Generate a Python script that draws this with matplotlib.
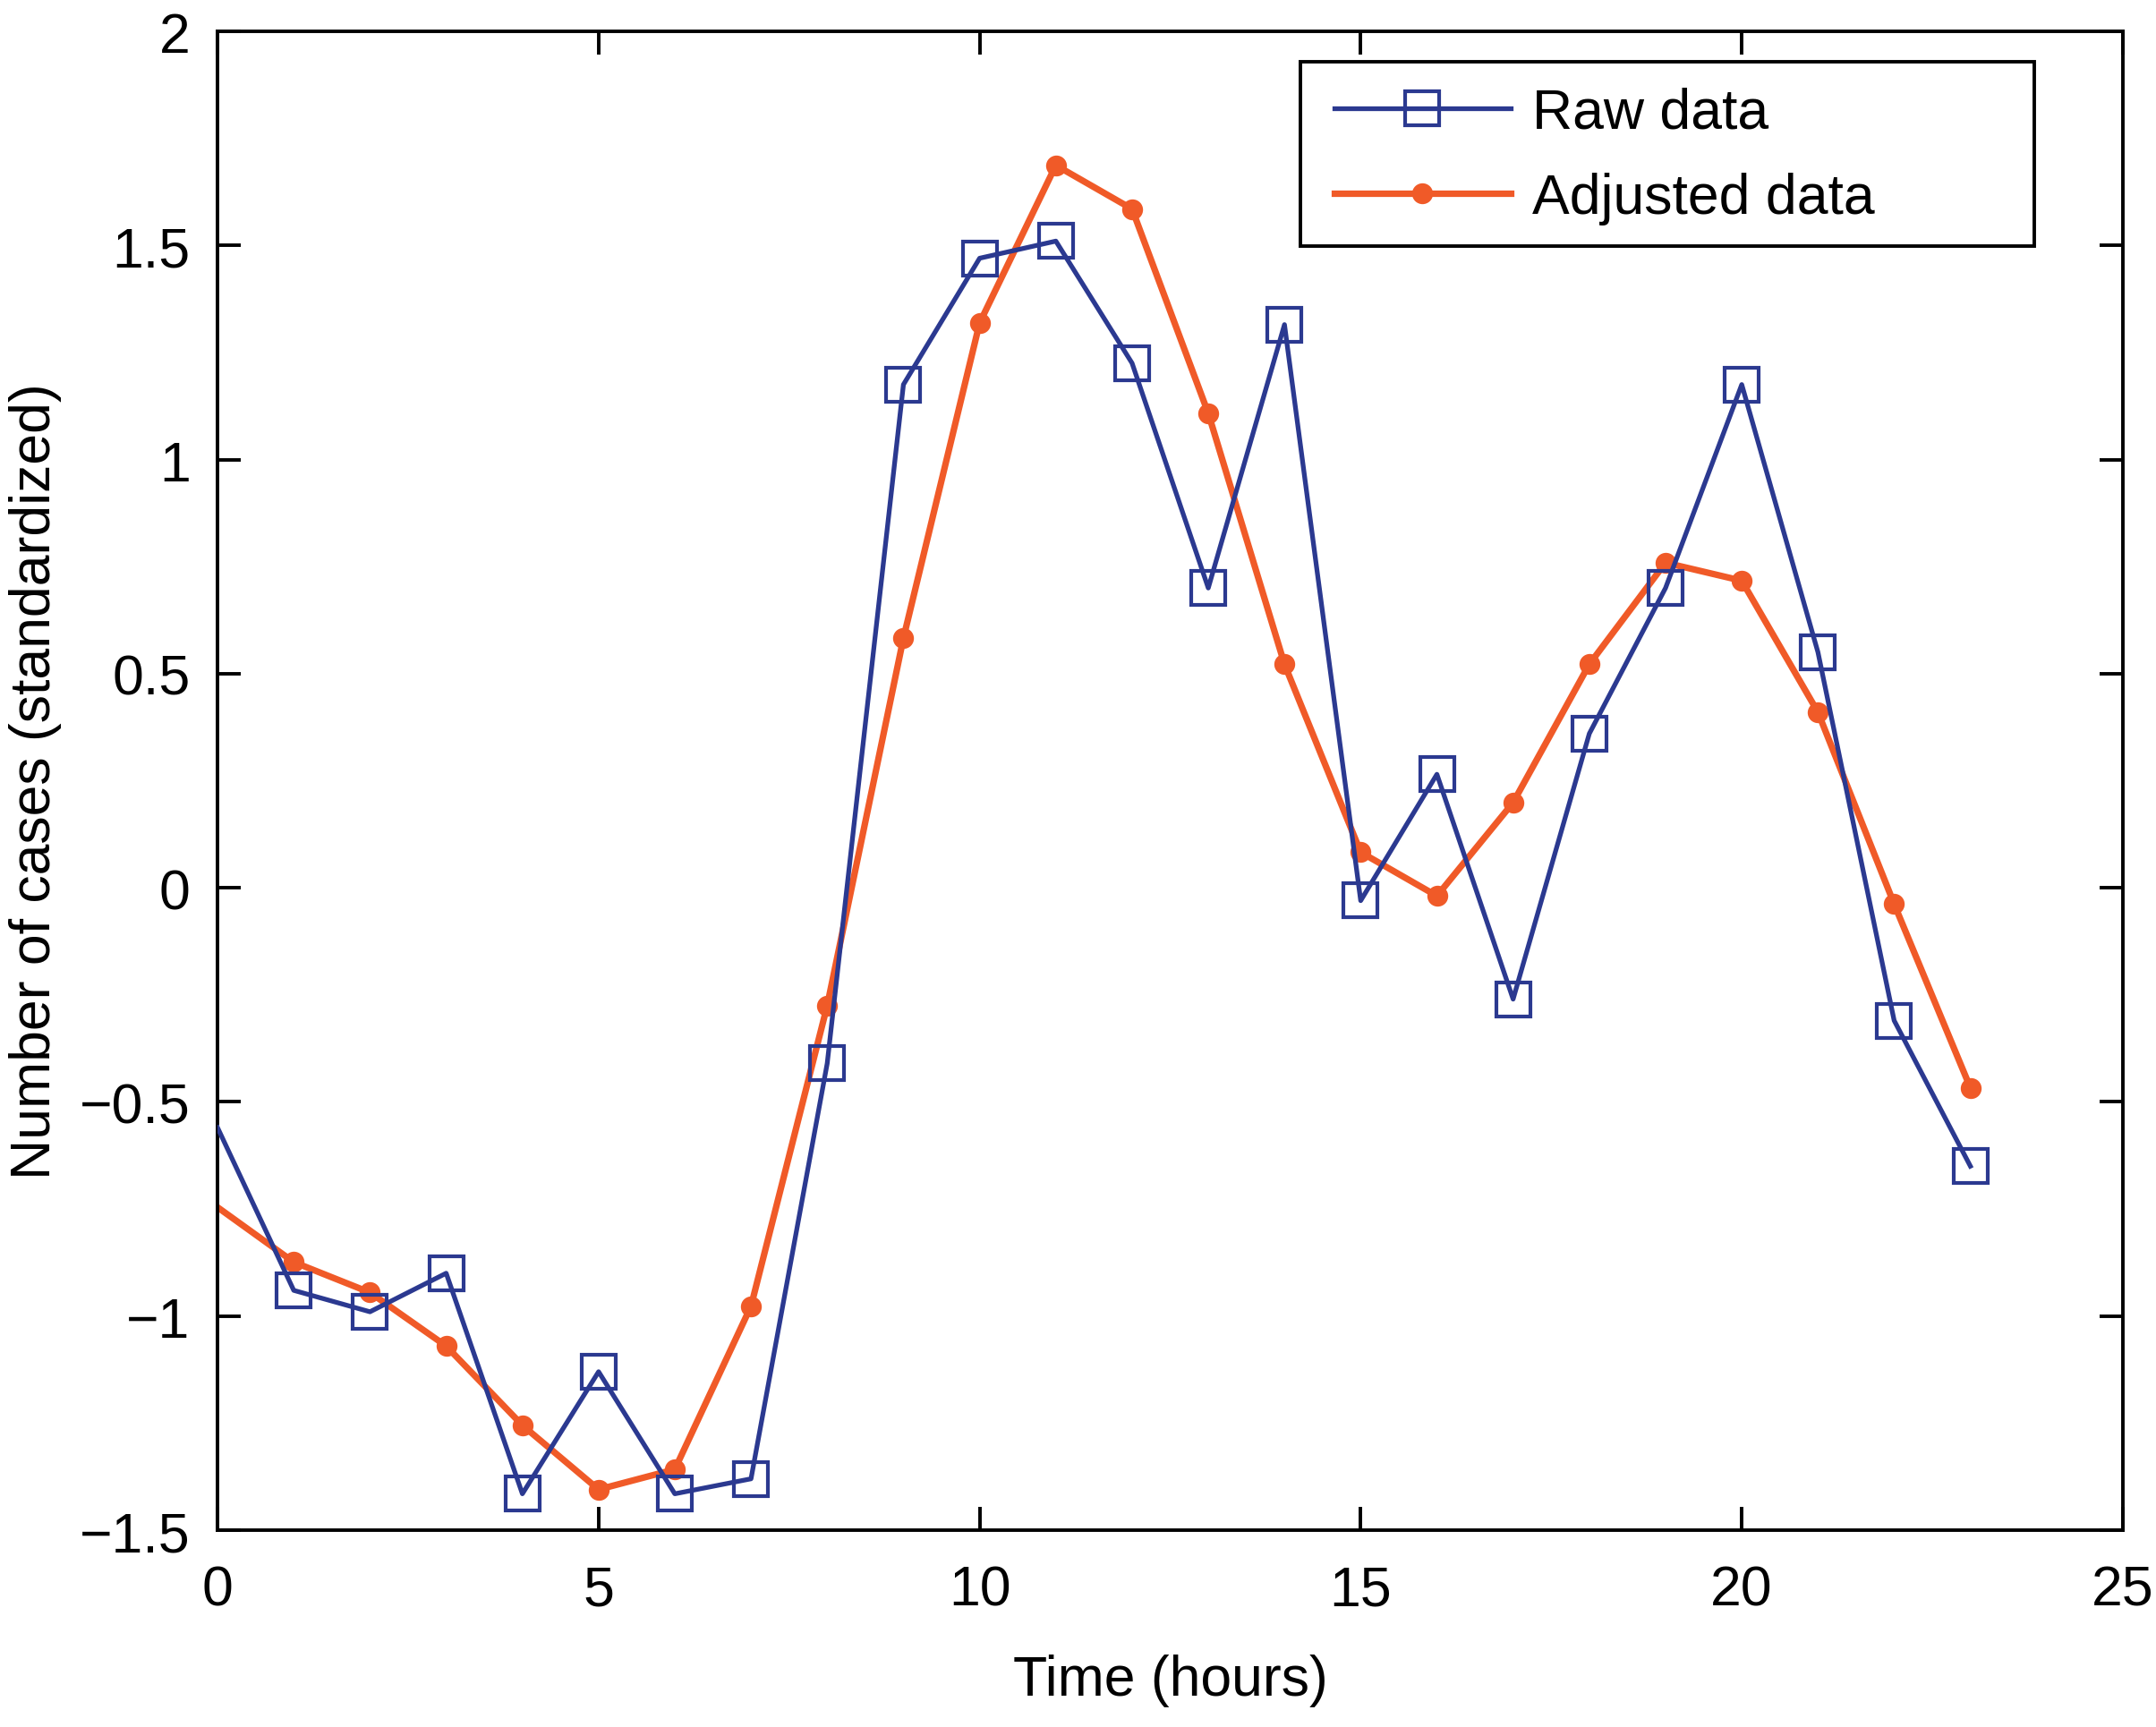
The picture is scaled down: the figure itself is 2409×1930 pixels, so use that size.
import matplotlib
matplotlib.use("Agg")
import matplotlib.pyplot as plt
from matplotlib.patches import Rectangle

hours = list(range(24))
raw_data = [-0.56, -0.94, -0.99, -0.90, -1.415, -1.13, -1.415, -1.38, -0.41, 1.175,
            1.47, 1.51, 1.225, 0.70, 1.315, -0.03, 0.265, -0.26, 0.36, 0.70,
            1.175, 0.55, -0.31, -0.65]
adjusted_data = [-0.746, -0.874, -0.945, -1.07, -1.255, -1.405, -1.358, -0.977, -0.275, 0.583,
                 1.319, 1.687, 1.585, 1.108, 0.522, 0.083, -0.019, 0.199, 0.522, 0.759,
                 0.717, 0.41, -0.038, -0.467]
xticks = [0, 5, 10, 15, 20, 25]
yticks = [-1.5, -1, -0.5, 0, 0.5, 1, 1.5, 2]
ytick_labels = ["\u22121.5", "\u22121", "\u22120.5", "0", "0.5", "1", "1.5", "2"]
series_labels = ["Raw data", "Adjusted data"]

plt.rcParams['font.family'] = ['Liberation Sans', 'DejaVu Sans']
FS = 22.5

W, H = 2409, 1931
fig = plt.figure(figsize=(W / 200, H / 200), dpi=200)
ax = fig.add_axes([0.1009, 0.1139, 0.8837, 0.8675])

blue = "#2B3990"
orange = "#F05A28"

ax.plot(hours, raw_data, color=blue, lw=1.9, marker='s', markersize=13.7,
        markerfacecolor='none', markeredgecolor=blue, markeredgewidth=1.5,
        markevery=list(range(1, 24)), label=series_labels[0], zorder=3)
ax.plot(hours, adjusted_data, color=orange, lw=2.6, marker='o', markersize=7.4,
        markerfacecolor=orange, markeredgecolor=orange,
        markevery=list(range(1, 24)), label=series_labels[1], zorder=2)

ax.set_xlim(0, 25)
ax.set_ylim(-1.5, 2)
ax.set_xticks(xticks)
ax.set_xticklabels([str(t) for t in xticks])
ax.set_yticks(yticks)
ax.set_yticklabels(ytick_labels)
ax.tick_params(direction='in', length=9.3, width=1.4, labelsize=FS, top=True, right=True)
ax.tick_params(axis='x', pad=13.5)
ax.tick_params(axis='y', pad=11)
for s in ax.spines.values():
    s.set_linewidth(1.4)

ax.set_xlabel("Time (hours)", fontsize=FS, labelpad=15)
ax.set_ylabel("Number of cases (standardized)", fontsize=FS, labelpad=7)

# legend frame (MATLAB style: extra room on the right)
x0, x1 = 1453 / W, 2273 / W
y_top, y_bot = 1 - 70 / H, 1 - 276 / H
frame = Rectangle((x0, y_bot), x1 - x0, y_top - y_bot, transform=fig.transFigure,
                  facecolor='white', edgecolor='black', lw=1.4, zorder=4, clip_on=False)
ax.add_patch(frame)

leg = ax.legend(loc='center left', bbox_to_anchor=(1491 / W, 1 - 175 / H),
                bbox_transform=fig.transFigure, fontsize=FS, frameon=False,
                handlelength=3.15, handletextpad=0.38, borderpad=0,
                borderaxespad=0, labelspacing=0.58)
leg.set_zorder(5)

fig.savefig("out.png", dpi=200)
